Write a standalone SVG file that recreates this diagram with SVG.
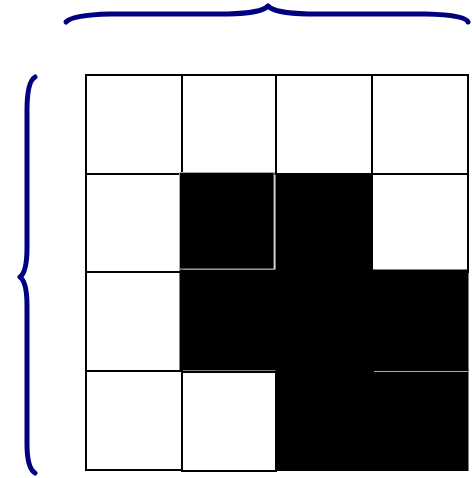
<svg xmlns="http://www.w3.org/2000/svg" width="472" height="478" viewBox="0 0 472 478">
<style>
.c{fill:#fff;stroke:#000;stroke-width:2}
.b{fill:#000;stroke:#000;stroke-width:1}
.g{fill:#000;stroke:#aaa;stroke-width:1}
.gl{stroke:#aaa;stroke-width:1}
.br{fill:none;stroke:#000080;stroke-width:5;stroke-linecap:round;stroke-linejoin:round}
</style>
<rect width="472" height="478" fill="#fff"/>
<g id="grid">
<rect class="c" x="86" y="75" width="96" height="99"/>
<rect class="c" x="182" y="75" width="94" height="99"/>
<rect class="c" x="276" y="75" width="96" height="99"/>
<rect class="c" x="372" y="75" width="96" height="99"/>
<rect class="c" x="86" y="174" width="96" height="98"/>
<rect class="c" x="372" y="174" width="96" height="98"/>
<rect class="c" x="86" y="272" width="96" height="99"/>
<rect class="c" x="86" y="371" width="96" height="99"/>
<rect class="c" x="182" y="372" width="94" height="99"/>
<rect class="b" x="276" y="174" width="96" height="98"/>
<rect class="b" x="180" y="270" width="288" height="100"/>
<rect class="b" x="276" y="370" width="192" height="100.5"/>
<line class="gl" x1="374" y1="371.5" x2="468" y2="371.5"/>
<rect class="g" x="179.5" y="172.5" width="94.5" height="96.5"/>
</g>
<g id="braces">
<path class="br" d="M66 22 Q72 15 110 14 L228 14 Q262 13 268 6 Q274 13 308 14 L426 14 Q466 15 468 22"/>
<path class="br" d="M35 77 Q27 82 27 110 L27 248 Q27 272 20 277 Q27 282 27 306 L27 444 Q27 468 35 473"/>
</g>
</svg>
